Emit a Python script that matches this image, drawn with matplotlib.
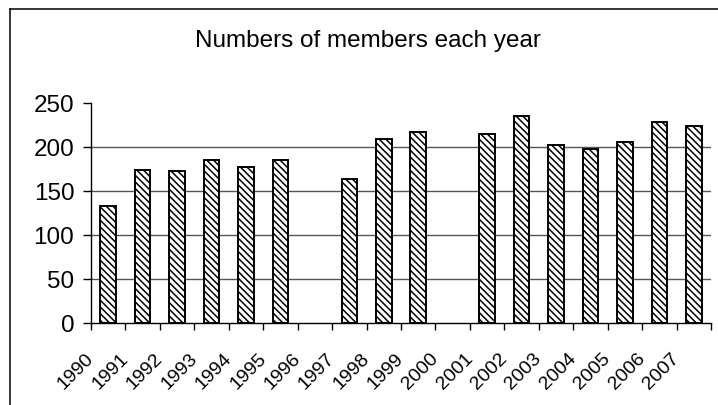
import matplotlib
matplotlib.use("Agg")
import matplotlib.pyplot as plt
from matplotlib.lines import Line2D
from matplotlib.transforms import ScaledTranslation
import numpy as np

years = [str(y) for y in range(1990, 2008)]
members = [133, 174, 172, 185, 177, 185, None, 163, 209, 217, None, 215, 235, 202, 198, 206, 228, 224]
title = "Numbers of members each year"
yticks = [0, 50, 100, 150, 200, 250]

plt.rcParams['font.family'] = ['Liberation Sans', 'DejaVu Sans']
plt.rcParams['hatch.linewidth'] = 1.1
plt.rcParams['hatch.color'] = 'black'

W, H = 718, 406
fig = plt.figure(figsize=(W / 100, H / 100), dpi=100)
ax = fig.add_axes([91 / W, (H - 323.5) / H, (711 - 91) / W, (323.5 - 104) / H])

x = np.arange(len(years))
xs = [xi for xi, v in zip(x, members) if v is not None]
vs = [v for v in members if v is not None]
ax.bar(xs, vs, width=0.45, facecolor='white', edgecolor='black', linewidth=1.4,
       hatch='\\\\\\\\\\', zorder=3)

ax.set_xlim(-0.5, len(years) - 0.5)
ax.set_ylim(0, 250)
ax.set_yticks(yticks)
ax.set_yticklabels([str(t) for t in yticks], fontsize=17.5)
for t in yticks[1:-1]:
    ax.axhline(t, color='#555555', linewidth=1.0, zorder=1)

ax.set_xticks(x)
ax.set_xticklabels(years, fontsize=14, rotation=45, ha='right', va='top')
ax.set_xticks(np.arange(-0.5, len(years)), minor=True)
ax.tick_params(axis='x', which='major', length=0, pad=19)
ax.tick_params(axis='x', which='minor', length=5, width=1, direction='out')
ax.tick_params(axis='y', length=6, width=1, direction='out', pad=6)
offset = ScaledTranslation(-11 / 100, 0, fig.dpi_scale_trans)
for lab in ax.get_xticklabels():
    lab.set_transform(lab.get_transform() + offset)

for s in ['top', 'right']:
    ax.spines[s].set_visible(False)
for s in ['left', 'bottom']:
    ax.spines[s].set_linewidth(1.0)
    ax.spines[s].set_color('black')

fig.text(368 / W, 1 - 46.5 / H, title, fontsize=17.5, ha='center', va='baseline')

# outer frame (left and top edges visible)
fig.add_artist(Line2D([9.5 / W, 9.5 / W], [0, 1 - 9.5 / H], color='black', linewidth=1.1,
                      transform=fig.transFigure))
fig.add_artist(Line2D([9.5 / W, 1], [1 - 9.5 / H, 1 - 9.5 / H], color='black', linewidth=1.1,
                      transform=fig.transFigure))

fig.savefig("out.png", dpi=100)
